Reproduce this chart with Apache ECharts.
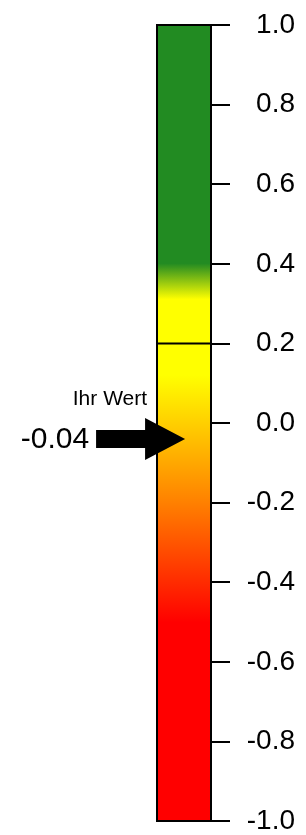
<!DOCTYPE html>
<html>
<head>
<meta charset="utf-8">
<script src="https://cdn.jsdelivr.net/npm/echarts@6/dist/echarts.min.js"></script>
<style>
html,body{margin:0;padding:0;background:#fff;}
#chart{width:306px;height:835px;}
</style>
</head>
<body>
<div id="chart"></div>
<script>
// ---- data ----
const scaleMin = -1.0;
const scaleMax = 1.0;
const tickInterval = 0.2;
// colour stops along the scale: [value, colour]
const stopValues = [1.0, 0.40, 0.31, 0.12, -0.2, -0.5, -1.0];
const stopColors = ['#228b22', '#228b22', '#ffff00', '#ffff00', '#ff8000', '#ff0000', '#ff0000'];
const thresholdValue = 0.2;
const userValue = -0.04;
const userLabel = 'Ihr Wert';

const chart = echarts.init(document.getElementById('chart'), null, {renderer: 'canvas'});

function fmt(v) {
  let r = Math.round(v * 10) / 10;
  if (Object.is(r, -0)) r = 0;
  return r.toFixed(1);
}

const gradStops = stopValues.map((v, i) => ({
  offset: (scaleMax - v) / (scaleMax - scaleMin),
  color: stopColors[i]
}));

const option = {
  animation: false,
  backgroundColor: '#ffffff',
  grid: {left: 157, right: 95, top: 25, bottom: 9},
  xAxis: {type: 'value', min: 0, max: 1, show: false},
  yAxis: {
    type: 'value', min: scaleMin, max: scaleMax, interval: tickInterval,
    position: 'right', z: 10,
    axisLine: {show: true, onZero: false, lineStyle: {color: '#000', width: 2}},
    axisTick: {show: true, inside: false, length: 19, lineStyle: {color: '#000', width: 2}},
    splitLine: {show: false},
    axisLabel: {
      margin: 84, align: 'right', color: '#000',
      fontFamily: 'Liberation Sans, Arial, sans-serif', fontSize: 28,
      formatter: fmt
    }
  },
  series: [
    {
      type: 'custom', name: 'scale', silent: true,
      data: [[scaleMin, scaleMax]],
      renderItem: function (params, api) {
        const p0 = api.coord([0, api.value(1)]);
        const p1 = api.coord([1, api.value(0)]);
        return {
          type: 'rect',
          shape: {x: p0[0], y: p0[1], width: p1[0] - p0[0], height: p1[1] - p0[1]},
          style: {
            fill: new echarts.graphic.LinearGradient(0, 0, 0, 1, gradStops),
            stroke: '#000', lineWidth: 2
          }
        };
      },
      z: 1
    },
    {
      type: 'custom', name: 'threshold', silent: true,
      data: [[thresholdValue]],
      renderItem: function (params, api) {
        const a = api.coord([0, api.value(0)]);
        const b = api.coord([1, api.value(0)]);
        return {
          type: 'line',
          shape: {x1: a[0], y1: a[1], x2: b[0], y2: b[1]},
          style: {stroke: '#000', lineWidth: 2}
        };
      },
      z: 2
    },
    {
      type: 'custom', name: 'marker', silent: true,
      data: [[userValue]],
      renderItem: function (params, api) {
        const v = api.value(0);
        const tip = api.coord([0.52, v]);
        const tx = tip[0], ty = tip[1];
        const headBase = tx - 40, bodyLeft = tx - 89;
        return {
          type: 'group',
          children: [
            {
              type: 'polygon',
              shape: {points: [
                [bodyLeft, ty - 9], [headBase, ty - 9], [headBase, ty - 21],
                [tx, ty], [headBase, ty + 21], [headBase, ty + 9], [bodyLeft, ty + 9]
              ]},
              style: {fill: '#000'}
            },
            {
              type: 'text',
              style: {
                x: bodyLeft - 7, y: ty + 1, text: v.toFixed(2),
                align: 'right', verticalAlign: 'middle',
                fontFamily: 'Liberation Sans, Arial, sans-serif', fontSize: 30, fill: '#000'
              }
            },
            {
              type: 'text',
              style: {
                x: headBase + 2, y: ty - 29, text: userLabel,
                align: 'right', verticalAlign: 'bottom',
                fontFamily: 'Liberation Sans, Arial, sans-serif', fontSize: 21, fill: '#000'
              }
            }
          ]
        };
      },
      z: 3
    }
  ]
};
chart.setOption(option);
</script>
</body>
</html>
